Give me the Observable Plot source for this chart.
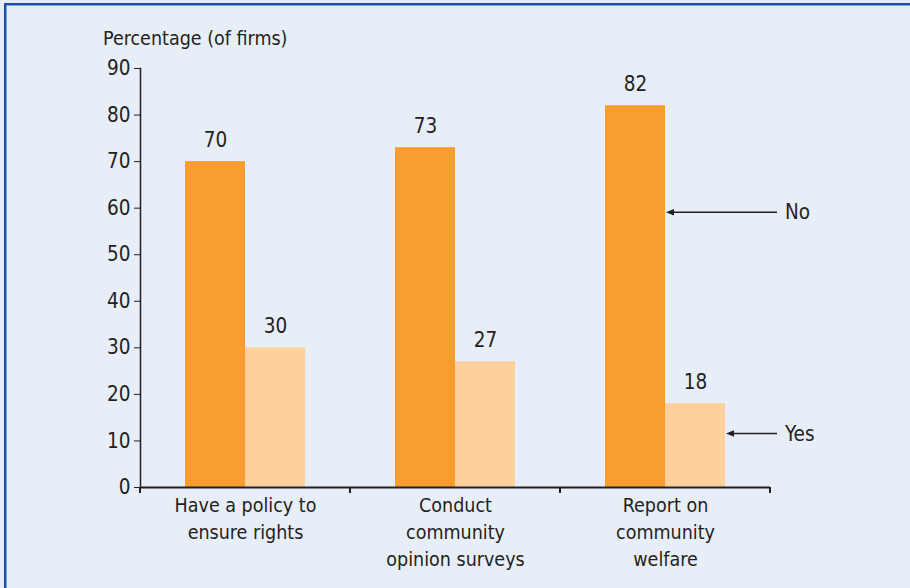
<!DOCTYPE html>
<html><head><meta charset="utf-8">
<script src="https://cdn.jsdelivr.net/npm/d3@7"></script>
<script src="https://cdn.jsdelivr.net/npm/@observablehq/plot@0.6"></script>
<style>
html,body{margin:0;padding:0;background:#e7eef8;width:910px;height:588px;overflow:hidden;}
#frame{position:absolute;left:4px;top:3px;right:0;bottom:0;border-top:2px solid #1b4f9f;border-left:2px solid #1b4f9f;box-shadow:inset 1px 1px 0 #7aa3d8;}
#ylabel{position:absolute;left:103px;top:29px;font-family:"DejaVu Sans Condensed";font-size:19.5px;line-height:20px;color:#231f20;white-space:nowrap;}
#chart{position:absolute;left:0;top:0;}
</style></head><body>
<div id="frame"></div>
<div id="ylabel">Percentage (of firms)</div>
<div id="chart"></div>
<script>
const categories = ["Have a policy to\nensure rights", "Conduct\ncommunity\nopinion surveys", "Report on\ncommunity\nwelfare"];
const answers = ["No", "Yes"];
const noValues = [70, 73, 82];
const yesValues = [30, 27, 18];
const yTicks = [0, 10, 20, 30, 40, 50, 60, 70, 80, 90];
const annotationLabels = ["No", "Yes"];
const annotationValues = [59, 11.5];
const colors = ["#f99d31", "#fed09c"];

const data = categories.flatMap((c, i) => [
  {category: c, answer: answers[0], value: noValues[i]},
  {category: c, answer: answers[1], value: yesValues[i]}
]);

const ink = "#231f20";
const plot = Plot.plot({
  width: 910, height: 588,
  marginLeft: 139, marginRight: 139, marginTop: 68, marginBottom: 101,
  style: {background: "transparent", fontFamily: "DejaVu Sans Condensed", fontSize: "20px", color: ink},
  fx: {domain: categories, padding: 0, label: null},
  x: {domain: answers, paddingInner: 0, paddingOuter: 0.725, axis: null},
  y: {domain: [0, 90], axis: null},
  color: {domain: answers, range: colors},
  marks: [
    Plot.barY(data, {fx: "category", x: "answer", y: "value", fill: "answer"}),
    Plot.text(data, {fx: "category", x: "answer", y: "value", text: d => String(d.value), lineAnchor: "bottom", dy: -15, fontSize: 20.5, fill: ink}),
    Plot.ruleY([0], {stroke: ink, strokeWidth: 2}),
    Plot.frame({anchor: "left", facetAnchor: "left", stroke: ink, strokeWidth: 1.5}),
    Plot.axisY({ticks: yTicks, tickSize: 6, tickPadding: 4, label: null, fontSize: 20.5, stroke: ink, fill: ink}),
    Plot.axisFx({anchor: "bottom", tickSize: 0, tickPadding: 5, label: null, lineHeight: 1.4, fontSize: 19.5, fill: ink})
  ]
});
document.getElementById("chart").appendChild(plot);

// Decorations derived from the plot's own scales
const svg = d3.select(plot);
const fx = plot.scale("fx"), x = plot.scale("x"), y = plot.scale("y");
const y0 = y.apply(0);
const bounds = categories.map(c => fx.apply(c)).concat([fx.apply(categories[categories.length - 1]) + fx.bandwidth]);
svg.append("g").selectAll("line").data(bounds).join("line")
  .attr("x1", d => d).attr("x2", d => d)
  .attr("y1", y0).attr("y2", y0 + 6)
  .attr("stroke", ink).attr("stroke-width", 2);

const last = categories[categories.length - 1];
const off = fx.apply(last);
const shift = off - Math.min(...x.range); // facet translation
const g = svg.append("g").attr("text-anchor", "start");
annotationLabels.forEach((lab, i) => {
  const yy = y.apply(annotationValues[i]);
  const tip = shift + x.apply(answers[i]) + x.bandwidth + 1;
  const tail = off + fx.bandwidth + 7;
  g.append("line").attr("x1", tip + 6).attr("x2", tail).attr("y1", yy).attr("y2", yy)
    .attr("stroke", ink).attr("stroke-width", 1.5);
  g.append("path").attr("d", `M${tip},${yy}L${tip + 8},${yy - 3.2}L${tip + 8},${yy + 3.2}Z`).attr("fill", ink);
  g.append("text").attr("x", tail + 8).attr("y", yy).attr("dy", "0.35em").attr("text-anchor", "start")
    .attr("font-size", 20.5).attr("fill", ink).attr("font-family", "DejaVu Sans Condensed").text(lab);
});
</script>
</body></html>
